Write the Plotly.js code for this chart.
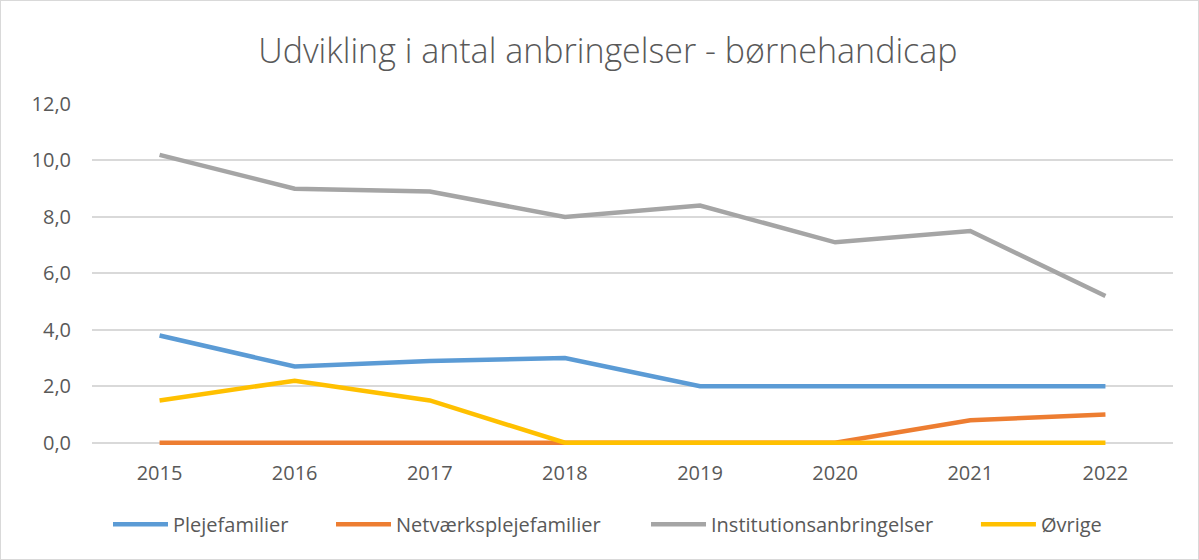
<!DOCTYPE html>
<html>
<head>
<meta charset="utf-8">
<script src="https://cdn.plot.ly/plotly-3.0.1.min.js"></script>
<style>
html,body{margin:0;padding:0;background:#fff;}
#chart{width:1197px;height:558px;border:1px solid #d9d9d9;}
</style>
</head>
<body>
<div id="chart"></div>
<script>
const years = ["2015","2016","2017","2018","2019","2020","2021","2022"];
const plejefamilier = [3.8, 2.7, 2.9, 3.0, 2.0, 2.0, 2.0, 2.0];
const netvaerk = [0, 0, 0, 0, 0, 0, 0.8, 1.0];
const institution = [10.2, 9.0, 8.9, 8.0, 8.4, 7.1, 7.5, 5.2];
const ovrige = [1.5, 2.2, 1.5, 0, 0, 0, 0, 0];
const seriesNames = ["Plejefamilier","Netværksplejefamilier","Institutionsanbringelser","Øvrige"];
const colors = ["#5B9BD5","#ED7D31","#A5A5A5","#FFC000"];
const allSeries = [plejefamilier, netvaerk, institution, ovrige];

const legendIds = ["legend","legend2","legend3","legend4"];
const traces = allSeries.map((vals, i) => ({
  x: years, y: vals, name: seriesNames[i], type: "scatter", mode: "lines",
  line: {color: colors[i], width: 4.5, shape: "linear"},
  legend: legendIds[i],
  hoverinfo: "x+y+name"
}));

const FONT = "'Open Sans', Lato, sans-serif";
const legendX = [0.0148, 0.2211, 0.5125, 0.8177];
const layout = {
  width: 1197, height: 558,
  margin: {l: 91, r: 25, t: 103, b: 112},
  paper_bgcolor: "#fff", plot_bgcolor: "#fff",
  separators: ",.",
  font: {family: FONT, color: "#595959", size: 20},
  title: {text: "Udvikling i antal anbringelser - børnehandicap", x: 0.507, xanchor: "center", y: 0.91, yanchor: "middle",
          font: {size: 34, color: "#595959", family: FONT, weight: 300}},
  xaxis: {type: "category", range: [-0.5, 7.5], showgrid: false, zeroline: false, showline: false,
          ticks: "", tickfont: {size: 20, color: "#595959", family: FONT}, ticklabelstandoff: 12},
  yaxis: {range: [-0.15, 12], tick0: 0, dtick: 2, tickformat: ".1f", showgrid: true, gridcolor: "#d9d9d9", gridwidth: 1.5,
          zeroline: false, showline: false, ticks: "", tickfont: {size: 20, color: "#595959", family: FONT}, ticklabelstandoff: 20},
  showlegend: true,
  hovermode: "closest"
};
legendIds.forEach((id, i) => {
  layout[id] = {orientation: "h", x: legendX[i], xanchor: "left", y: -0.225, yanchor: "middle",
                font: {size: 20, color: "#595959", family: FONT}, itemwidth: 55, bgcolor: "rgba(0,0,0,0)"};
});
Plotly.newPlot("chart", traces, layout, {displayModeBar: false});
</script>
</body>
</html>
